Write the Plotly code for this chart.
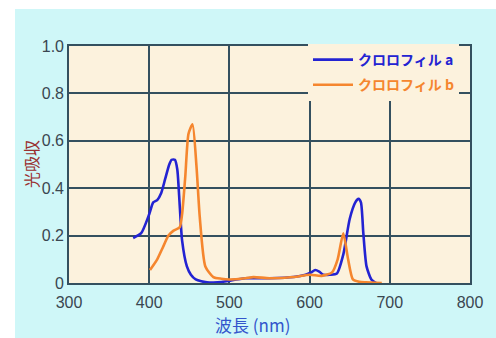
import plotly.graph_objects as go

# Chlorophyll a (blue)
wl_a = [380, 390, 400, 405, 410, 415, 420, 425, 428, 432, 435, 438, 441, 447, 452, 458, 465, 472, 480, 490, 500, 520, 550, 580, 595, 602, 607, 612, 617, 625, 634, 642, 650, 657, 661, 664, 667, 671, 677, 683]
abs_a = [0.19, 0.21, 0.29, 0.34, 0.35, 0.38, 0.44, 0.50, 0.52, 0.52, 0.48, 0.33, 0.18, 0.07, 0.035, 0.015, 0.007, 0.003, 0.002, 0.004, 0.01, 0.02, 0.02, 0.025, 0.035, 0.045, 0.055, 0.048, 0.035, 0.035, 0.04, 0.12, 0.27, 0.34, 0.355, 0.34, 0.21, 0.07, 0.015, 0.0]

# Chlorophyll b (orange)
wl_b = [401, 410, 417, 424, 430, 438, 441, 445, 449, 454, 459, 463, 470, 480, 490, 500, 520, 530, 550, 580, 600, 615, 628, 635, 642, 648, 654, 662, 670, 690]
abs_b = [0.055, 0.10, 0.15, 0.20, 0.22, 0.235, 0.29, 0.45, 0.63, 0.67, 0.49, 0.28, 0.07, 0.025, 0.018, 0.015, 0.02, 0.025, 0.02, 0.025, 0.035, 0.03, 0.045, 0.1, 0.21, 0.1, 0.015, 0.005, 0.003, 0.0]

name_a = "クロロフィル a"
name_b = "クロロフィル b"
x_ticks = [300, 400, 500, 600, 700, 800]
y_ticks = [0, 0.2, 0.4, 0.6, 0.8, 1.0]
y_tick_text = ["0", "0.2", "0.4", "0.6", "0.8", "1.0"]

BLUE = "#2323d2"
ORANGE = "#f5862e"
GRID = "#34505f"

fig = go.Figure()
fig.add_trace(go.Scatter(x=wl_a, y=abs_a, mode="lines",
                         name=f"<span style='color:{BLUE}'>{name_a}</span>", legendgroup="a",
                         line=dict(color=BLUE, width=2.6, shape="spline", smoothing=0.6)))
fig.add_trace(go.Scatter(x=wl_b, y=abs_b, mode="lines",
                         name=f"<span style='color:{ORANGE}'>{name_b}</span>", legendgroup="b",
                         line=dict(color=ORANGE, width=2.6, shape="spline", smoothing=0.6)))

L, R, T, B = 69, 26, 46, 55
W, H = 496, 338
pw, ph = W - L - R, H - T - B

def px(x):
    return (x - L) / pw

def py(y):
    return (H - B - y) / ph

TICKFONT = dict(family="Liberation Sans, Arial", size=16, color="#3a4650")

fig.update_layout(
    width=W, height=H,
    margin=dict(l=L, r=R, t=T, b=B, pad=0),
    paper_bgcolor="#cff7f8",
    plot_bgcolor="#fcf2dd",
    showlegend=True,
    legend=dict(x=px(308), y=py(44), xanchor="left", yanchor="top",
                bgcolor="#fcf2dd", borderwidth=0,
                font=dict(family="Noto Sans CJK JP", size=14, weight="bold"),
                tracegroupgap=4, itemwidth=40),
    font=dict(family="Liberation Sans, Arial", size=16, color="#3a4650"),
    xaxis=dict(range=[300, 800], tickvals=x_ticks, ticks="", showgrid=True,
               gridcolor=GRID, gridwidth=1.6, showline=True, linecolor=GRID,
               linewidth=1.6, mirror=True, zeroline=False, ticklabelstandoff=4,
               tickfont=TICKFONT),
    yaxis=dict(range=[0, 1.0], tickvals=y_ticks, ticktext=y_tick_text, ticks="",
               showgrid=True, gridcolor=GRID, gridwidth=1.6, showline=True,
               linecolor=GRID, linewidth=1.6, mirror=True, zeroline=False,
               tickfont=TICKFONT),
    shapes=[
        dict(type="rect", xref="paper", yref="paper", x0=px(-5), x1=px(15),
             y0=py(-5), y1=py(H + 5), fillcolor="white", line=dict(width=0), layer="above"),
        dict(type="rect", xref="paper", yref="paper", x0=px(-5), x1=px(W + 5),
             y0=py(9), y1=py(-5), fillcolor="white", line=dict(width=0), layer="above"),
    ],
    annotations=[
        dict(text="波長 (nm)", xref="paper", yref="paper", x=px(252), y=py(324),
             showarrow=False, xanchor="center", yanchor="middle",
             font=dict(family="Noto Sans CJK JP", size=17, color="#3355cc")),
        dict(text="光吸収", xref="paper", yref="paper", x=px(31), y=py(164),
             showarrow=False, xanchor="center", yanchor="middle", textangle=-90,
             font=dict(family="Noto Sans CJK JP", size=16, color="#9a3030")),
    ],
)

fig.write_html("out.html", config={"displayModeBar": False},
               post_script="document.body.style.margin='0';document.body.style.overflow='hidden';")
